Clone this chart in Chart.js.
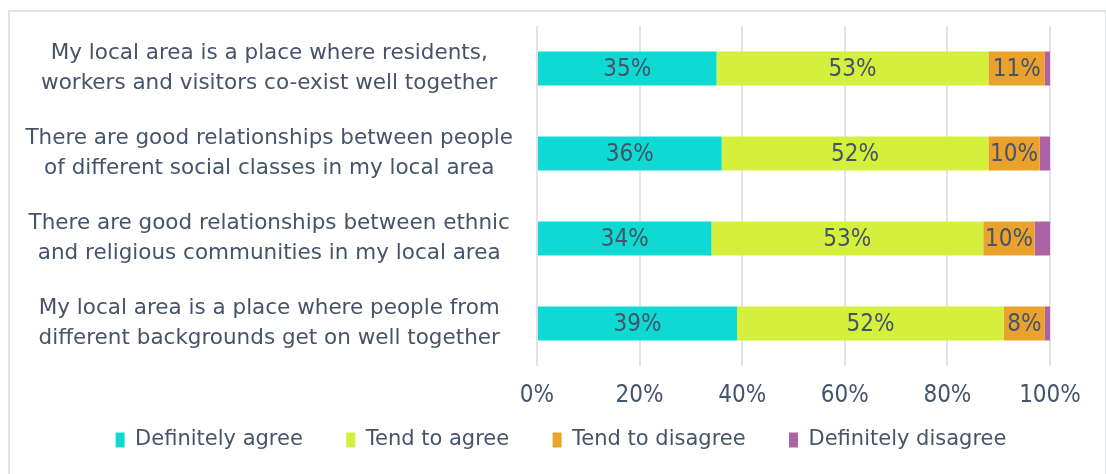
<!DOCTYPE html>
<html>
<head>
<meta charset="utf-8">
<script src="https://cdn.jsdelivr.net/npm/chart.js@4.4.1/dist/chart.umd.min.js"></script>
<style>
  html, body { margin: 0; padding: 0; background: #fff; }
  #frame {
    position: absolute; left: 8px; top: 10px; width: 1095px; height: 470px;
    border: 2px solid #dfe3ea; border-bottom: none;
  }
  #wrap { position: absolute; left: 0; top: 0; width: 1106px; height: 474px; }
</style>
</head>
<body>
<div id="frame"></div>
<div id="wrap"><canvas id="cohesionChart"></canvas></div>
<script>
// Survey statements (top to bottom)
const statements = [
    ['My local area is a place where residents,', 'workers and visitors co-exist well together'],
    ['There are good relationships between people', 'of different social classes in my local area'],
    ['There are good relationships between ethnic', 'and religious communities in my local area'],
    ['My local area is a place where people from', 'different backgrounds get on well together']
];

// Response shares, %
const definitelyAgree    = [35, 36, 34, 39];
const tendToAgree        = [53, 52, 53, 52];
const tendToDisagree     = [11, 10, 10, 8];
const definitelyDisagree = [1, 2, 3, 1];

const xTicks = [0, 20, 40, 60, 80, 100];

const TEXT = '#44546A';
const WORD_FONT = "'DejaVu Sans', sans-serif";
const NUM_FONT = "'Liberation Sans Narrow', 'DejaVu Sans Condensed', sans-serif";

// Writes the % inside each segment that is wide enough
const segmentLabels = {
    id: 'segmentLabels',
    afterDatasetsDraw(chart) {
        const ctx = chart.ctx;
        ctx.save();
        ctx.font = '24px ' + NUM_FONT;
        ctx.fillStyle = TEXT;
        ctx.textAlign = 'center';
        ctx.textBaseline = 'middle';
        chart.data.datasets.forEach((ds, i) => {
            const meta = chart.getDatasetMeta(i);
            meta.data.forEach((bar, j) => {
                const v = ds.data[j];
                if (v < 5) return;
                const cx = (bar.x + bar.base) / 2;
                ctx.fillText(v + '%', cx, bar.y + 1);
            });
        });
        ctx.restore();
    }
};

// nudge the legend row to the right so it sits under the plot
const legendShift = {
    id: 'legendShift',
    afterLayout(chart) {
        if (!chart.legend) return;
        chart.legend.left += 36;
        chart.legend.right += 36;
    }
};

function initChart() {
    const ctx = document.getElementById('cohesionChart').getContext('2d');
    const common = { barPercentage: 0.4, categoryPercentage: 1, borderWidth: 0 };

    new Chart(ctx, {
        type: 'bar',
        data: {
            labels: statements,
            datasets: [
                { label: 'Definitely agree', data: definitelyAgree, backgroundColor: '#0FD9D3', ...common },
                { label: 'Tend to agree', data: tendToAgree, backgroundColor: '#D4EF3C', ...common },
                { label: 'Tend to disagree', data: tendToDisagree, backgroundColor: '#EBA22D', ...common },
                { label: 'Definitely disagree', data: definitelyDisagree, backgroundColor: '#AD62A6', ...common }
            ]
        },
        options: {
            indexAxis: 'y',
            responsive: true,
            maintainAspectRatio: false,
            animation: false,
            layout: { padding: { top: 26, right: 56, bottom: 13.5, left: 0 } },
            plugins: {
                tooltip: { enabled: false },
                legend: {
                    position: 'bottom',
                    labels: {
                        color: TEXT,
                        font: { family: WORD_FONT, size: 21 },
                        boxWidth: 9,
                        boxHeight: 15,
                        padding: 10,
                        generateLabels(chart) {
                            const items = Chart.defaults.plugins.legend.labels.generateLabels(chart);
                            // wider gaps between entries
                            items.forEach((it, i) => {
                                if (i < items.length - 1) it.text += '     ';
                            });
                            return items;
                        }
                    }
                }
            },
            scales: {
                x: {
                    stacked: true,
                    min: 0,
                    max: 100,
                    afterBuildTicks: (scale) => { scale.ticks = xTicks.map(v => ({ value: v })); },
                    afterFit: (scale) => { scale.height = 53.5; },
                    border: { display: false },
                    grid: { color: '#dfe3ea', lineWidth: 2, drawTicks: false },
                    ticks: {
                        color: TEXT,
                        padding: 16,
                        font: { family: NUM_FONT, size: 24, lineHeight: 1.15 },
                        callback: (v) => v + '%'
                    }
                },
                y: {
                    stacked: true,
                    afterFit: (scale) => {
                        scale.width = 537;
                        scale.paddingTop = 0;
                        scale.paddingBottom = 0;
                    },
                    border: { display: false },
                    grid: { display: false, drawTicks: false },
                    ticks: {
                        color: TEXT,
                        crossAlign: 'center',
                        padding: 24,
                        font: { family: WORD_FONT, size: 21.5, lineHeight: 1.36 }
                    }
                }
            }
        },
        plugins: [segmentLabels, legendShift]
    });
}

initChart();
</script>
</body>
</html>
